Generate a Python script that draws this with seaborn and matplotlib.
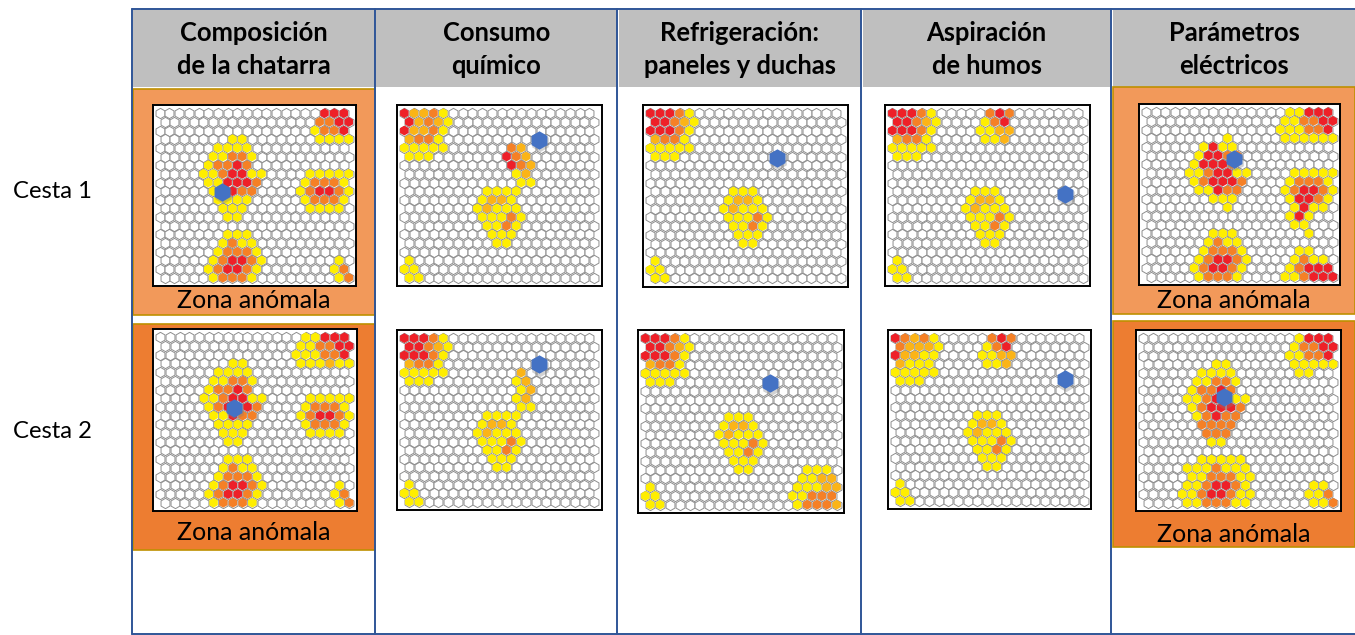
import pandas as pd
import matplotlib
matplotlib.use('Agg')
import matplotlib.pyplot as plt
from matplotlib.patches import Rectangle
import seaborn as sns

sns.set_theme(style='white')
plt.rcParams['font.family'] = ['Lato', 'DejaVu Sans']

W, H = 1355, 635

# Titulos
columnas = ['Composición\nde la chatarra', 'Consumo\nquímico', 'Refrigeración:\npaneles y duchas',
            'Aspiración\nde humos', 'Parámetros\neléctricos']
cestas = ['Cesta 1', 'Cesta 2']
texto_zona = 'Zona anómala'

# Mapas: . vacio, y amarillo, a ambar, o naranja, r rojo
comp_c1 = [
    '.................rrr', '................oorr', '................yoor', '.......yy.......yyyy',
    '......yyyy', '.....yyooy', '.....yooro', '....yyorryy....yyyyy',
    '.....yyrrro....yoooy', '.....yyroo....yorroy', '......yyyy.....yoooy', '......yyy......yyyy',
    '.......yy', '', '.......yyy', '......yoyy',
    '......yoooy', '.....yorroy.......y', '.....yorroy.......yo', '.....yoooy........yo',
]
comp_c2 = [
    '...............yyrrr', '..............yyoorr', '..............yyyoor', '.......yy.....yyyayy',
    '......yyyy', '.....yyooy', '.....yooro', '....yyorryy....yyyyy',
    '.....yorrro....yoooy', '.....yyroo....yorroy', '......yyyy.....yoooy', '......yyy......yyyy',
    '.......yy', '', '.......yyy', '......yoyy',
    '......yoooy', '.....yorroy.......y', '.....yorroy.......yo', '.....yoooy........yo',
]
quim_c1 = [
    'raaoy', 'raoay', 'raaoy', 'aooy',
    'yyyyy......oa', 'yyy.......roa', '...........roa', '...........ya',
    '............yy', '........yyyy', '........yaay', '.......yayyy',
    '........yyyoy', '........yyoy', '.........yyy', '.........yy',
    '', 'y', 'yy', 'yy',
]
quim_c2 = [
    'rrroy', 'rroay', 'rrroy', 'aooy',
    'yyyyy.......a', 'yyy........ya', '............ya', '...........ya',
    '............yy', '........yyyy', '........yaay', '.......yayyy',
    '........yyyoy', '........yyoy', '.........yyy', '.........yy',
    '', 'y', 'yy', 'yy',
]
refr_c1 = [
    'rrroy', 'rroay', 'rrroy', 'aooy',
    'yyyyy', 'yyy', '', '',
    '', '........yyy', '........yaay', '.......yayyy',
    '........yyyoy', '........yyoy', '.........yyy', '.........yy',
    '', 'y', 'yy', 'yy',
]
refr_c2 = [
    'rrroy', 'rroay', 'rrroy', 'aooy',
    'yyyyy', 'yyy', '', '',
    '', '........yyy', '........yaay', '.......yayyy',
    '........yyyoy', '........yyoy', '.........yyy', '.........yy.....yyy',
    '................yyaa', 'y..............yyyaa', 'yy.............yyooo', 'yy.............yoooa',
]
aspi_c1 = [
    'rrroy.....oro', 'rroay....yor', 'rrroy....yyaa', 'aooy.....yya',
    'yyyyy', 'yyy', '', '',
    '', '........yyy', '........yaay', '.......yayyy',
    '........yyyoy', '........yyoy', '.........yyy', '.........yy',
    '', 'y', 'yy', 'yy',
]
aspi_c2 = [
    'roaoy.....oro', 'oaaay....yor', 'raayy....yyaa', 'ayyy.....yya',
    'yyyyy', 'yyy', '', '',
    '', '........yyy', '........yaay', '.......yayyy',
    '........yyyoy', '........yyoy', '.........yyy', '.........yy',
    '', 'y', 'yy', 'yy',
]
elec_c1 = [
    '...............yyrrr', '..............yyoorr', '..............yyyoor', '........y.....yyyyyy',
    '......yryy', '.....yrroo', '.....yrrro', '....yyorryy....yyyyy',
    '.....yorrro....yoooy', '.....yyroo....yorroy', '.......yyy.....yrroy', '........y......yryy',
    '...............yry', '...............yy', '.......yyy.......y', '......yoyy',
    '......yoooy.....yy', '.....yorroy....yoyy', '.....yorroy....yorrr', '.....yoooy....yyorrr',
]
elec_c2 = [
    '................yrrr', '...............yoorr', '...............yyoor', '.......yy......yyyyy',
    '......yyyy......yy', '.....yyooy', '.....yooro', '....yyorryy',
    '.....yorrro', '.....yoroo', '......oooo', '......ooo',
    '.......yy', '', '......yyyyy', '....yyyoyyy',
    '.....yyoooyy', '....yyorroy......yy', '....yyorroyy.....yyo', '....yyoooyy......yyo',
]

# Punto azul de cada mapa (columna, fila)
punto_c1 = [(6.38, 9.04), (13.86, 3.08), (13.0, 5.1), (17.7, 9.3), (9.16, 5.38)]
punto_c2 = [(7.66, 8.08), (13.86, 3.0), (12.7, 5.15), (17.6, 4.77), (8.24, 6.8)]

mapas_c1 = [comp_c1, quim_c1, refr_c1, aspi_c1, elec_c1]
mapas_c2 = [comp_c2, quim_c2, refr_c2, aspi_c2, elec_c2]

# Cajas de los mapas en pixeles: x0, y0, x1, y1
cajas_c1 = [(152.5, 105, 356, 286), (397, 105, 601.5, 286), (643, 105, 848, 286.5),
            (885, 105, 1090, 286), (1139, 104, 1340, 285)]
cajas_c2 = [(153, 329, 356.5, 511), (397, 330, 601.5, 510), (638, 330, 844, 513),
            (888, 330, 1091, 509), (1136, 330, 1340.5, 511)]

colores = {'y': '#FFEE00', 'a': '#FBB417', 'o': '#F58026', 'r': '#EE2028'}
azul = '#4472C4'


def tabla_mapa(filas):
    registros = []
    for f, fila in enumerate(filas):
        fila = fila.ljust(20, '.')
        for c, nivel in enumerate(fila):
            registros.append({'x': c + 0.5 * (f % 2), 'y': f, 'nivel': nivel})
    return pd.DataFrame(registros)


def dibujar_mapa(fig, caja, filas, punto):
    x0, y0, x1, y1 = caja
    ax = fig.add_axes([x0 / W, 1 - y1 / H, (x1 - x0) / W, (y1 - y0) / H], facecolor='white')
    tabla = tabla_mapa(filas)
    # rejilla blanca y encima las celdas con color
    sns.scatterplot(data=tabla, x='x', y='y', color='white', marker='h', s=55,
                    edgecolor='#8E8E8E', linewidth=0.7, legend=False, ax=ax)
    sns.scatterplot(data=tabla[tabla['nivel'] != '.'], x='x', y='y', hue='nivel', palette=colores,
                    marker='h', s=50, linewidth=0, legend=False, ax=ax)
    # sombra y punto
    sns.scatterplot(x=[punto[0] + 0.1], y=[punto[1] + 0.3], color='#7F7F7F', alpha=0.35,
                    marker='h', s=190, linewidth=0, legend=False, ax=ax)
    sns.scatterplot(x=[punto[0]], y=[punto[1]], color=azul, marker='h', s=175,
                    linewidth=0, legend=False, ax=ax)
    ax.set_xlim(-0.75, 20.25)
    ax.set_ylim(19.95, -0.95)
    ax.set_xlabel('')
    ax.set_ylabel('')
    ax.set_xticks([])
    ax.set_yticks([])
    for s in ax.spines.values():
        s.set_visible(True)
        s.set_color('black')
        s.set_linewidth(1.4)
    return ax


fig = plt.figure(figsize=(W / 100, H / 100), dpi=100, facecolor='white')
fondo = fig.add_axes([0, 0, 1, 1])
fondo.set_xlim(0, W)
fondo.set_ylim(H, 0)
fondo.axis('off')

# Cabecera gris
lim_cab = [(133, 375), (376, 617), (619, 861), (863, 1110), (1113, 1355)]
for (a, b), nombre in zip(lim_cab, columnas):
    fondo.add_patch(Rectangle((a, 10), b - a, 77, facecolor='#BFBFBF', edgecolor='none'))
    fondo.text((a + b) / 2, 49.5, nombre, ha='center', va='center', fontsize=18.4,
               fontweight='bold', color='black', linespacing=1.42)

# Zonas anomalas
zonas = [(133, 89, 375, 315, '#F2995A', 300), (133, 324, 375, 550, '#ED7D31', 532),
         (1113, 87, 1355, 314, '#F2995A', 300), (1113, 321, 1355, 547, '#ED7D31', 534)]
for a, b, c, d, color, yt in zonas:
    fondo.add_patch(Rectangle((a, b), c - a, d - b, facecolor=color, edgecolor='#BF9000', linewidth=1.2))
    fondo.text((a + c) / 2, yt, texto_zona, ha='center', va='center', fontsize=18, color='black')

# Lineas de la tabla
azul_tabla = '#2F5597'
for x in [132, 375, 617, 861, 1111]:
    fondo.plot([x, x], [9, 634], color=azul_tabla, linewidth=1.4)
fondo.plot([132, 1355], [9, 9], color=azul_tabla, linewidth=1.4)
fondo.plot([132, 1355], [634, 634], color=azul_tabla, linewidth=1.4)

fondo.text(52.5, 191, cestas[0], ha='center', va='center', fontsize=17.2, color='black')
fondo.text(52.5, 431, cestas[1], ha='center', va='center', fontsize=17.2, color='black')

for caja, filas, punto in zip(cajas_c1, mapas_c1, punto_c1):
    dibujar_mapa(fig, caja, filas, punto)
for caja, filas, punto in zip(cajas_c2, mapas_c2, punto_c2):
    dibujar_mapa(fig, caja, filas, punto)

fig.savefig('out.png', dpi=100, facecolor='white')
